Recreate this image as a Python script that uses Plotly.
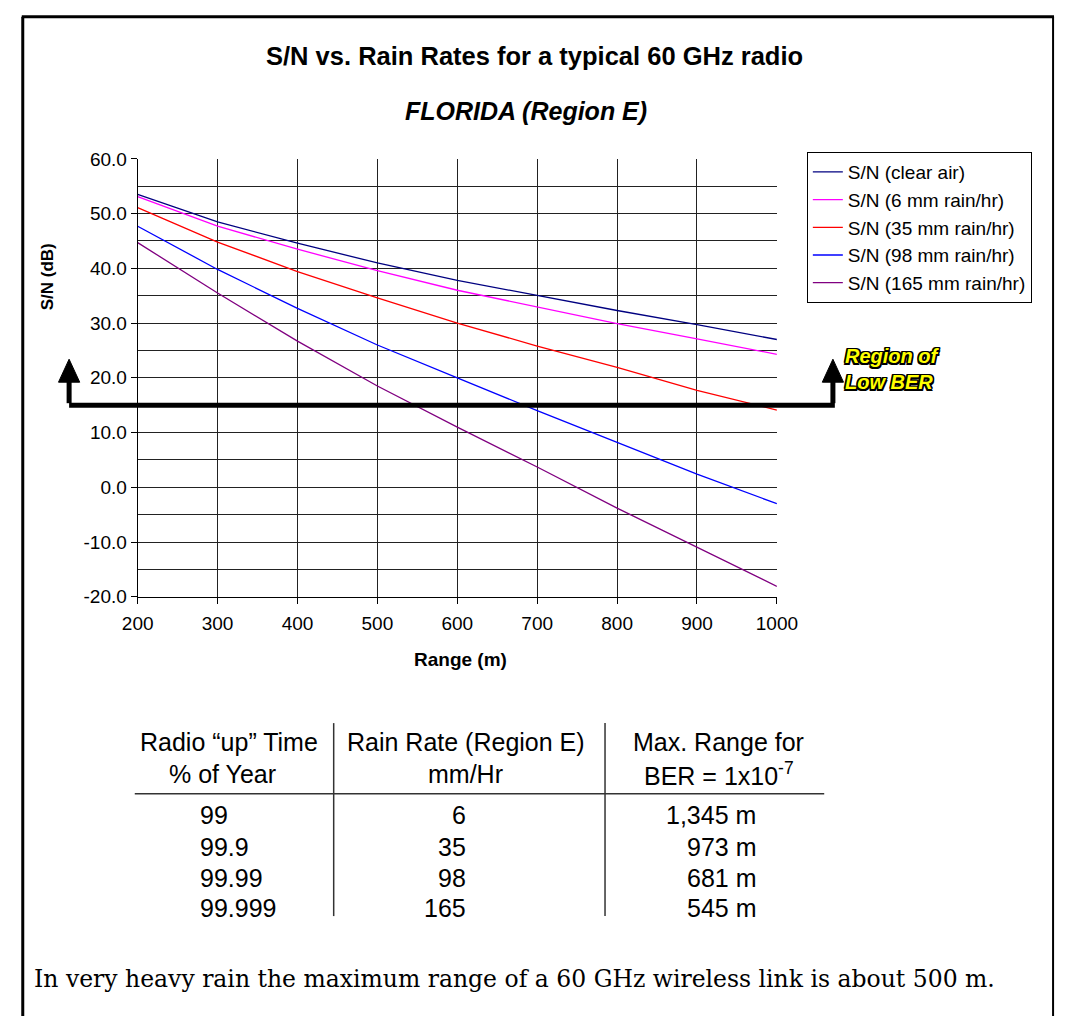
import plotly.graph_objects as go

# ---------------- data ----------------
range_m = [200, 300, 400, 500, 600, 700, 800, 900, 1000]
sn_clear_air = [53.5, 48.5, 44.6, 41.0, 37.8, 35.0, 32.3, 29.7, 27.0]
sn_6mm = [53.1, 47.7, 43.5, 39.6, 36.0, 32.9, 29.9, 27.1, 24.3]
sn_35mm = [51.1, 44.8, 39.4, 34.6, 30.0, 25.8, 21.9, 17.7, 14.1]
sn_98mm = [47.7, 39.8, 32.7, 26.0, 20.0, 14.0, 8.2, 2.4, -3.0]
sn_165mm = [44.7, 35.5, 26.7, 18.5, 11.0, 3.7, -3.8, -10.9, -18.1]

series_names = ["S/N (clear air)", "S/N (6 mm rain/hr)", "S/N (35 mm rain/hr)",
                "S/N (98 mm rain/hr)", "S/N (165 mm rain/hr)"]
series_values = [sn_clear_air, sn_6mm, sn_35mm, sn_98mm, sn_165mm]
series_colors = ["#000080", "#FF00FF", "#FF0000", "#0000FF", "#800080"]

ber_threshold_db = 15

y_ticks = [-20, -10, 0, 10, 20, 30, 40, 50, 60]
y_tick_labels = [f"{v:.1f}" for v in y_ticks]
x_ticks = [200, 300, 400, 500, 600, 700, 800, 900, 1000]

table_col1 = ["99", "99.9", "99.99", "99.999"]
table_col2 = ["6", "35", "98", "165"]
table_col3 = ["1,345 m", "973 m", "681 m", "545 m"]

W, H = 1076, 1027
def px(x):
    return x / W
def py(y):
    return 1 - y / H

FONT = "Liberation Sans, Arial, sans-serif"

fig = go.Figure()
for i, (name, vals, col) in enumerate(zip(series_names, series_values, series_colors)):
    fig.add_trace(go.Scatter(x=range_m, y=vals, mode="lines", name=name,
                             line=dict(color=col, width=1.3)))

fig.update_layout(
    width=W, height=H,
    margin=dict(l=0, r=0, t=0, b=0),
    paper_bgcolor="white", plot_bgcolor="white",
    font=dict(family=FONT, color="black"),
    showlegend=True,
    legend=dict(x=px(819), y=py(145), xanchor="left", yanchor="top",
                bordercolor="black", borderwidth=1, bgcolor="white",
                font=dict(size=19, family=FONT), tracegroupgap=0),
    xaxis=dict(domain=[px(126), px(788)], range=[200, 1000],
               tickvals=x_ticks, ticks="outside", ticklen=6, tickcolor="black",
               ticklabelstandoff=3,
               showgrid=True, gridcolor="#222", gridwidth=1,
               showline=True, linecolor="black", linewidth=1,
               tickfont=dict(size=19), zeroline=False, fixedrange=True),
    yaxis=dict(domain=[py(599), py(152)], range=[-20, 60],
               tickvals=y_ticks, ticktext=y_tick_labels, ticks="outside", ticklen=6,
               tickcolor="black", showgrid=True, gridcolor="#222", gridwidth=1,
               minor=dict(dtick=5, showgrid=True, gridcolor="#222", gridwidth=1),
               showline=True, linecolor="black", linewidth=1,
               tickfont=dict(size=19), zeroline=False, fixedrange=True),
)

ann = []
ann.append(dict(text="<b>S/N vs. Rain Rates for a typical 60 GHz radio</b>", x=px(537), y=py(47),
                font=dict(size=25.5)))
ann.append(dict(text="<b><i>FLORIDA (Region E)</i></b>", x=px(528), y=py(103), font=dict(size=25)))
ann.append(dict(text="<b>S/N (dB)</b>", x=px(33), y=py(272), textangle=-90, font=dict(size=17)))
ann.append(dict(text="<b>Range (m)</b>", x=px(460), y=py(663), font=dict(size=19)))
ann.append(dict(text="<b><i>Region of<br>Low BER</i></b>", x=px(908), y=py(367),
                font=dict(size=20, color="#FFFF00",
                          shadow="1.5px 1.5px 0 #000, -1.5px -1.5px 0 #000, 1.5px -1.5px 0 #000, -1.5px 1.5px 0 #000, 1.5px 0 0 #000, -1.5px 0 0 #000, 0 1.5px 0 #000, 0 -1.5px 0 #000"),
                align="left"))

TF = 25
ann.append(dict(text="Radio “up” Time", x=px(221), y=py(747), font=dict(size=TF)))
ann.append(dict(text="% of Year", x=px(214), y=py(780), font=dict(size=TF)))
ann.append(dict(text="Rain Rate (Region E)", x=px(466), y=py(747), font=dict(size=TF)))
ann.append(dict(text="mm/Hr", x=px(466), y=py(780), font=dict(size=TF)))
ann.append(dict(text="Max. Range for", x=px(728), y=py(747), font=dict(size=TF)))
ann.append(dict(text="BER = 1x10<sup>-7</sup>", x=px(728), y=py(780), font=dict(size=TF)))
row_y = [822, 854, 886, 917]
for ry, a, b, c in zip(row_y, table_col1, table_col2, table_col3):
    ann.append(dict(text=a, x=px(188), y=py(ry), xanchor="left", font=dict(size=TF)))
    ann.append(dict(text=b, x=px(468), y=py(ry), xanchor="right", font=dict(size=TF)))
    ann.append(dict(text=c, x=px(768), y=py(ry), xanchor="right", font=dict(size=TF)))

ann.append(dict(text="In very heavy rain the maximum range of a 60 GHz wireless link is about 500 m.",
                x=px(17), y=py(989), xanchor="left",
                font=dict(size=23.5, family="DejaVu Serif, serif")))

for a in ann:
    a.setdefault("xref", "paper")
    a.setdefault("yref", "paper")
    a.setdefault("showarrow", False)
    a.setdefault("xanchor", "center")
    a.setdefault("yanchor", "middle")
fig.update_layout(annotations=ann)

shapes = []
# outer frame (open at the bottom)
shapes.append(dict(type="line", xref="paper", yref="paper", x0=px(6), x1=px(1075),
                   y0=py(7), y1=py(7), line=dict(color="black", width=3)))
for vx in [7, 1074]:
    shapes.append(dict(type="line", xref="paper", yref="paper", x0=px(vx), x1=px(vx),
                       y0=0, y1=py(7), line=dict(color="black", width=3 if vx == 7 else 2)))
# table rules
shapes.append(dict(type="line", xref="paper", yref="paper", x0=px(123), x1=px(837),
                   y0=py(800), y1=py(800), line=dict(color="#333", width=1.5)))
for vx in [329, 610]:
    shapes.append(dict(type="line", xref="paper", yref="paper", x0=px(vx), x1=px(vx),
                       y0=py(728), y1=py(925), line=dict(color="#333", width=1.5)))

# Low-BER arrow at the threshold (y offsets in pixels from the threshold)
common = dict(xref="paper", yref="y", ysizemode="pixel", yanchor=ber_threshold_db)
shapes.append(dict(type="line", x0=px(55), x1=px(848), y0=0, y1=0,
                   line=dict(color="black", width=5), **common))
for ax_ in [55, 846]:
    shapes.append(dict(type="line", x0=px(ax_), x1=px(ax_), y0=2, y1=25,
                       line=dict(color="black", width=5), **common))
    path = f"M {px(ax_-11)},23 L {px(ax_+11)},23 L {px(ax_)},46 Z"
    shapes.append(dict(type="path", path=path, fillcolor="black",
                       line=dict(color="black", width=1), **common))
fig.update_layout(shapes=shapes)

fig.write_html("out.html", config={"displayModeBar": False},
               post_script="document.body.style.margin='0';document.body.style.overflow='hidden';")
